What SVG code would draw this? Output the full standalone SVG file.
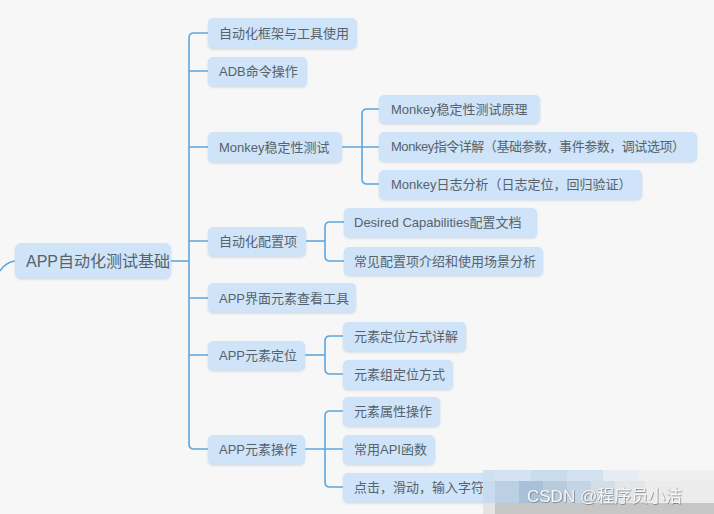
<svg xmlns="http://www.w3.org/2000/svg" width="714" height="514" viewBox="0 0 714 514">
<defs>
<filter id="sh" x="-10%" y="-20%" width="120%" height="150%">
<feDropShadow dx="0" dy="1.5" stdDeviation="1" flood-color="#9fb4c8" flood-opacity="0.45"/>
</filter>
<filter id="ts" x="-5%" y="-20%" width="110%" height="140%">
<feDropShadow dx="0.6" dy="0.6" stdDeviation="0.5" flood-color="#5a5a5a" flood-opacity="0.9"/>
</filter>
</defs>
<style>
.n rect{fill:#cfe4f8;stroke:none;filter:url(#sh)}
.n text{font-family:"Liberation Sans","Noto Sans CJK SC",sans-serif;font-size:13px;fill:#58626c;dominant-baseline:central}
.r text{font-size:16px}
.c path{fill:none;stroke:#5ea6dc;stroke-width:1.6}
.wm{font-family:"Liberation Sans","Noto Sans CJK SC",sans-serif;font-size:17px;fill:#f6f6f6;filter:url(#ts)}
</style>
<rect width="714" height="514" fill="#f7f7f7"/>
<g class="c" id="connectors">
<path d="M0,271 Q6,262 15,261"/>
<path d="M171,261 H189"/>
<path d="M208,33 H194 Q189,33 189,38 V444 Q189,449 194,449 H208"/>
<path d="M189,71 H208 M189,147 H208 M189,241 H208 M189,298 H208 M189,355 H208"/>
<path d="M342,147 H379"/>
<path d="M379,109 H367 Q362,109 362,114 V179 Q362,184 367,184 H379"/>
<path d="M306,241 H325"/>
<path d="M344,222 H330 Q325,222 325,227 V256 Q325,261 330,261 H344"/>
<path d="M305,355 H325"/>
<path d="M343,336 H330 Q325,336 325,341 V369 Q325,374 330,374 H343"/>
<path d="M305,449 H343"/>
<path d="M343,411 H330 Q325,411 325,416 V482 Q325,487 330,487 H343"/>
</g>
<g class="n r" id="root"><rect x="15" y="243" width="156" height="35" rx="6"/><text x="26" y="261">APP自动化测试基础</text></g>
<g class="n" id="n1"><rect x="208" y="18" width="149" height="30" rx="5"/><text x="219" y="33">自动化框架与工具使用</text></g>
<g class="n" id="n2"><rect x="208" y="57" width="99" height="29" rx="5"/><text x="219" y="71">ADB命令操作</text></g>
<g class="n" id="n3"><rect x="208" y="132" width="134" height="30" rx="5"/><text x="219" y="147">Monkey稳定性测试</text></g>
<g class="n" id="n4"><rect x="208" y="227" width="98" height="29" rx="5"/><text x="219" y="241">自动化配置项</text></g>
<g class="n" id="n5"><rect x="208" y="283" width="148" height="29" rx="5"/><text x="219" y="298">APP界面元素查看工具</text></g>
<g class="n" id="n6"><rect x="208" y="341" width="97" height="29" rx="5"/><text x="219" y="355">APP元素定位</text></g>
<g class="n" id="n7"><rect x="208" y="435" width="97" height="29" rx="5"/><text x="219" y="449">APP元素操作</text></g>
<g class="n" id="n3a"><rect x="379" y="95" width="161" height="28" rx="5"/><text x="391" y="109">Monkey稳定性测试原理</text></g>
<g class="n" id="n3b"><rect x="379" y="132" width="318" height="29" rx="5"/><text x="391" y="146" textLength="294" lengthAdjust="spacing">Monkey指令详解（基础参数，事件参数，调试选项）</text></g>
<g class="n" id="n3c"><rect x="379" y="170" width="263" height="29" rx="5"/><text x="391" y="184">Monkey日志分析（日志定位，回归验证）</text></g>
<g class="n" id="n4a"><rect x="344" y="208" width="193" height="29" rx="5"/><text x="354" y="222">Desired Capabilities配置文档</text></g>
<g class="n" id="n4b"><rect x="344" y="247" width="199" height="28" rx="5"/><text x="354" y="261">常见配置项介绍和使用场景分析</text></g>
<g class="n" id="n6a"><rect x="343" y="322" width="123" height="29" rx="5"/><text x="354" y="336">元素定位方式详解</text></g>
<g class="n" id="n6b"><rect x="343" y="360" width="110" height="29" rx="5"/><text x="354" y="374">元素组定位方式</text></g>
<g class="n" id="n7a"><rect x="343" y="397" width="97" height="29" rx="5"/><text x="354" y="411">元素属性操作</text></g>
<g class="n" id="n7b"><rect x="343" y="435" width="92" height="29" rx="5"/><text x="354" y="449">常用API函数</text></g>
<g class="n" id="n7c"><rect x="343" y="473" width="150" height="29" rx="5"/><text x="354" y="487">点击，滑动，输入字符</text></g>
<g id="watermark">
<rect x="483" y="470" width="231" height="44" fill="#e6eaee"/>
<rect x="483" y="470" width="12" height="11" fill="#cfe0f0"/>
<rect x="495" y="470" width="36" height="11" fill="#d3e3f3"/>
<rect x="531" y="470" width="36" height="11" fill="#cadbec"/>
<rect x="567" y="470" width="36" height="11" fill="#d2e1ef"/>
<rect x="603" y="470" width="36" height="11" fill="#e6ecf1"/>
<rect x="639" y="470" width="75" height="11" fill="#efefef"/>
<rect x="483" y="481" width="12" height="22" fill="#c9dcef"/>
<rect x="495" y="481" width="24" height="22" fill="#bcd0e4"/>
<rect x="519" y="481" width="24" height="22" fill="#a9c1d8"/>
<rect x="543" y="481" width="24" height="22" fill="#b7cbdf"/>
<rect x="567" y="481" width="24" height="22" fill="#c3d4e4"/>
<rect x="591" y="481" width="24" height="22" fill="#d3dde6"/>
<rect x="615" y="481" width="30" height="22" fill="#e3e6e9"/>
<rect x="645" y="481" width="69" height="22" fill="#ececec"/>
<rect x="483" y="503" width="12" height="11" fill="#e4e4e4"/>
<rect x="495" y="503" width="219" height="11" fill="#c6c6c6"/>
<text class="wm" x="527" y="502">CSDN @程序员小洁</text>
</g>
</svg>
